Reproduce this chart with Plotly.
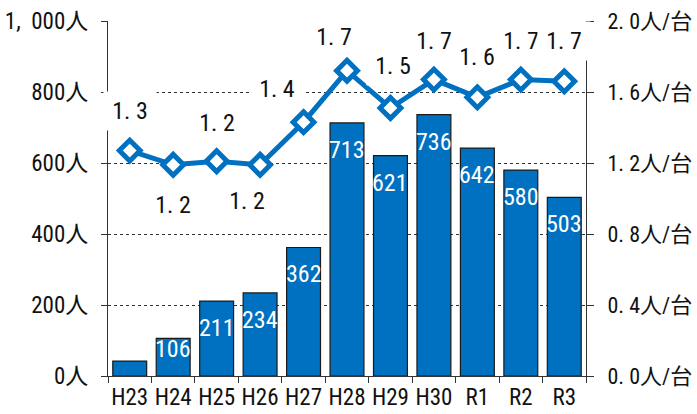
import plotly.graph_objects as go

categories = ["H23", "H24", "H25", "H26", "H27", "H28", "H29", "H30", "R1", "R2", "R3"]
persons = [42, 106, 211, 234, 362, 713, 621, 736, 642, 580, 503]
bar_labels = ["", "106", "211", "234", "362", "713", "621", "736", "642", "580", "503"]
ratio = [1.27, 1.19, 1.21, 1.19, 1.43, 1.72, 1.51, 1.67, 1.57, 1.67, 1.66]
ratio_labels = ["1.3", "1.2", "1.2", "1.2", "1.4", "1.7", "1.5", "1.7", "1.6", "1.7", "1.7"]
left_ticks = [0, 200, 400, 600, 800, 1000]
left_tick_text = ["0人", "200人", "400人", "600人", "800人", "1,  000人"]
right_ticks = [0.0, 0.4, 0.8, 1.2, 1.6, 2.0]
right_tick_text = ["0. 0人/台", "0. 4人/台", "0. 8人/台", "1. 2人/台", "1. 6人/台", "2. 0人/台"]
# label offsets (pixels) relative to each line point
label_dx = [0, 0, 0, -13, -27, -13, 3, 0, 0, 0, 0]
label_dy = [40, -40, 38, -36, 33, 34, 42, 39, 40, 39, 40]

BLUE = "#0070C0"
COND = "Roboto Condensed, Noto Sans CJK JP"
PLOT_H = 414 - 21 - 38

fig = go.Figure()
fig.add_trace(go.Bar(
    x=categories, y=persons,
    marker=dict(color=BLUE, line=dict(color="#1a1a1a", width=1.2)),
))
fig.add_trace(go.Scatter(
    x=categories, y=ratio, yaxis="y2", mode="lines+markers",
    line=dict(color=BLUE, width=5),
    marker=dict(symbol="diamond", size=16, color="white", line=dict(color=BLUE, width=5)),
    cliponaxis=False,
))

for c, v, t in zip(categories, persons, bar_labels):
    if t:
        px = v * PLOT_H / 1000.0
        shift = min(27.0, px - 27.5)
        fig.add_annotation(x=c, y=v, xref="x", yref="y", text=t, showarrow=False,
                           yshift=-shift, font=dict(size=24, color="white", family=COND))

for c, v, t, dx, dy in zip(categories, ratio, ratio_labels, label_dx, label_dy):
    fig.add_annotation(x=c, y=v, xref="x", yref="y2", text=t.replace(".", ". "),
                       showarrow=False, xshift=dx, yshift=dy, bgcolor="white",
                       width=42, borderpad=5,
                       font=dict(size=24, color="#111", family=COND))

fig.update_layout(
    width=697, height=414,
    margin=dict(l=108, r=111, t=21, b=38, autoexpand=False),
    plot_bgcolor="white", paper_bgcolor="white",
    showlegend=False, bargap=0.22,
    font=dict(family=COND, size=22, color="#111"),
    xaxis=dict(range=[-0.5, len(categories) - 0.5], showline=True, linecolor="#333",
               linewidth=1.2, ticks="outside", ticklen=6, tickcolor="#333",
               tickson="boundaries", tickangle=0, automargin=False,
               tickfont=dict(size=23, family=COND)),
    yaxis=dict(range=[0, 1000], tickvals=left_ticks, ticktext=left_tick_text,
               showline=True, linecolor="#333", linewidth=1.2, ticks="outside",
               ticklen=6, tickcolor="#333", showgrid=True, gridcolor="#333",
               griddash="dot", gridwidth=1, zeroline=False, automargin=False,
               ticklabelstandoff=8, tickfont=dict(size=23, family=COND)),
    yaxis2=dict(range=[0, 2.0], tickvals=right_ticks, ticktext=right_tick_text,
                overlaying="y", side="right", showline=True, linecolor="#333",
                linewidth=1.2, ticks="outside", ticklen=7, tickcolor="#333",
                showgrid=False, zeroline=False, automargin=False,
                ticklabelstandoff=9, tickfont=dict(size=22, family=COND)),
)

fig.write_html("out.html", config={"displayModeBar": False},
               post_script="document.body.style.margin='0';document.body.style.overflow='hidden';")
